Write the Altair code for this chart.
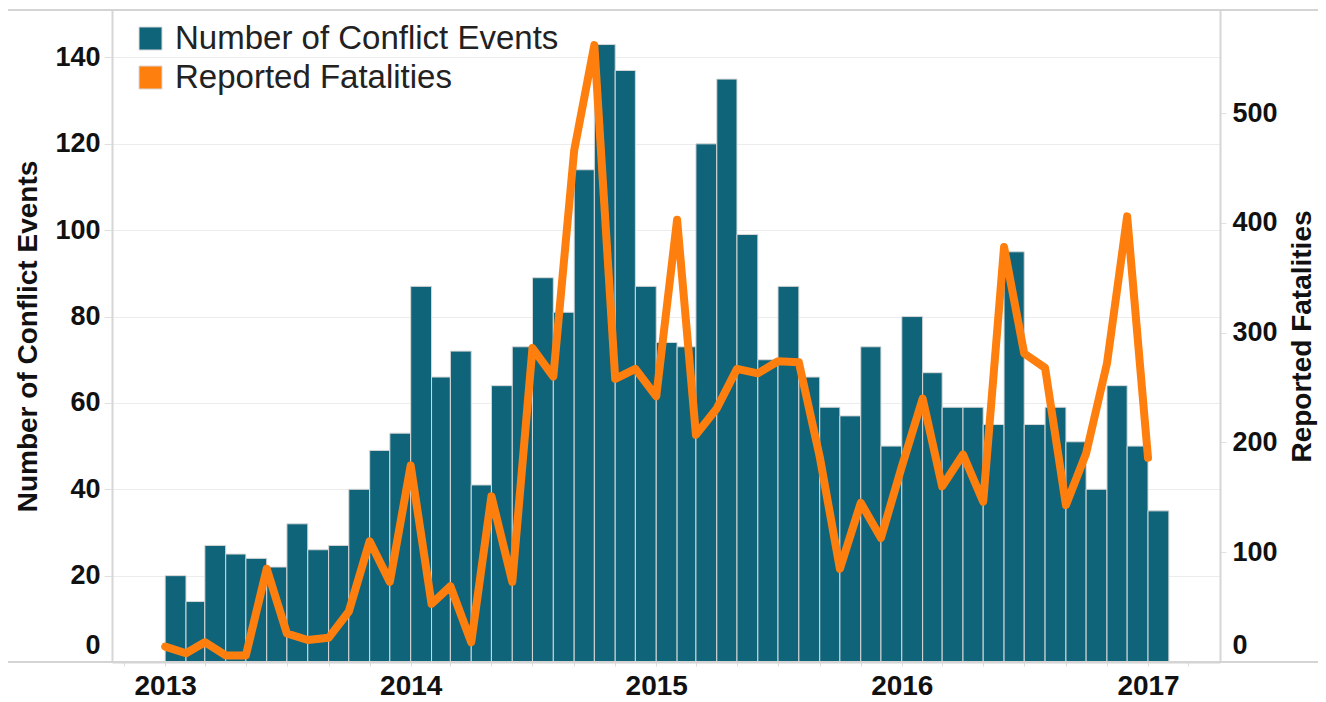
import altair as alt
import pandas as pd

# Monthly categories, Jan 2013 .. Jan 2017
months = pd.date_range("2013-01-01", "2017-01-01", freq="MS")
month_start = [d.strftime("%Y-%m-%d") for d in months]
month_end = [(d + pd.offsets.MonthBegin(1)).strftime("%Y-%m-%d") for d in months]

conflict_events = [
    20, 14, 27, 25, 24, 22, 32, 26, 27, 40, 49, 53,
    87, 66, 72, 41, 64, 73, 89, 81, 114, 143, 137, 87,
    74, 73, 120, 135, 99, 70, 87, 66, 59, 57, 73, 50,
    80, 67, 59, 59, 55, 95, 55, 59, 51, 40, 64, 50,
    35,
]
reported_fatalities = [
    14, 8, 18, 6, 6, 85, 26, 20, 22, 46, 110, 73,
    179, 53, 69, 18, 151, 73, 286, 260, 466, 562, 258, 267,
    242, 403, 207, 231, 267, 263, 274, 273, 187, 85, 145, 113,
    178, 240, 160, 189, 146, 378, 281, 268, 143, 190, 272, 406,
    186,
]
series_names = ["Number of Conflict Events", "Reported Fatalities"]
series_colors = ["#10647a", "#ff7f0e"]
left_ticks = [0, 20, 40, 60, 80, 100, 120, 140]
right_ticks = [0, 100, 200, 300, 400, 500]

df = pd.DataFrame({
    "start": month_start,
    "end": month_end,
    "events": conflict_events,
    "fatalities": reported_fatalities,
    "series": series_names[0],
})

# monthly tick marks on the time axis (labels only for January)
tick_dates = [alt.DateTime(year=d.year, month=d.month, date=1, utc=True)
              for d in pd.date_range("2012-11-01", "2017-04-01", freq="MS")]

FONT = "Liberation Sans"
TXT = "#111111"
W, H = 1108, 652

zero_label_shift = {"condition": {"test": "datum.value == 0", "value": -17}, "value": 0}

xscale = alt.Scale(type="utc", domain=[
    alt.DateTime(year=2012, month=10, date=14, utc=True),
    alt.DateTime(year=2017, month=4, date=18, utc=True),
])

xaxis = alt.Axis(
    title=None, values=tick_dates,
    labelExpr="utcmonth(datum.value) == 0 ? utcFormat(datum.value, '%Y') : ''",
    labelFontSize=28, labelFontWeight="bold", labelColor=TXT, labelFont=FONT,
    labelPadding=6, tickSize=4, tickColor="#dddddd", domainColor="#d4d4d4",
    domainWidth=2, grid=False, labelOverlap=False, labelFlush=False,
)

bars = alt.Chart(df).mark_bar(stroke="#d8d8d8", strokeWidth=1).encode(
    x=alt.X("start:T", scale=xscale, axis=xaxis),
    x2="end:T",
    y=alt.Y("events:Q", scale=alt.Scale(domain=[0, 151], nice=False),
            axis=alt.Axis(
                title="Number of Conflict Events", values=left_ticks,
                grid=True, gridColor="#ececec", gridWidth=1,
                domainColor="#d6d6d6", domainWidth=2,
                tickColor="#e0e0e0", tickSize=8, labelPadding=4,
                labelFontSize=27, labelFontWeight="bold", labelColor=TXT, labelFont=FONT,
                labelFlush=False, labelOffset=zero_label_shift,
                titleFontSize=28, titleFontWeight="bold", titleColor=TXT, titleFont=FONT,
                titlePadding=12,
            )),
    y2=alt.datum(0),
    color=alt.Color("series:N",
                    scale=alt.Scale(domain=series_names, range=series_colors),
                    legend=alt.Legend(
                        title=None, orient="none", legendX=22, legendY=12,
                        symbolType="square", symbolSize=529, symbolStrokeWidth=1,
                        labelFontSize=33, labelFont=FONT, labelColor="#222222",
                        labelOffset=8, rowPadding=5, padding=0, labelLimit=700,
                    )),
)

line = alt.Chart(df).mark_line(
    color=series_colors[1], strokeWidth=8, strokeCap="round", strokeJoin="round"
).encode(
    x=alt.X("start:T", scale=xscale),
    y=alt.Y("fatalities:Q", scale=alt.Scale(domain=[0, 594], nice=False),
            axis=alt.Axis(
                orient="right", title="Reported Fatalities", values=right_ticks,
                grid=False, domainColor="#d6d6d6", domainWidth=2,
                tickColor="#e0e0e0", tickSize=6, labelPadding=6,
                labelFontSize=27, labelFontWeight="bold", labelColor=TXT, labelFont=FONT,
                labelFlush=False, labelOffset=zero_label_shift,
                titleFontSize=28, titleFontWeight="bold", titleColor=TXT, titleFont=FONT,
                titleAngle=270, titleBaseline="top", titlePadding=11,
            )),
)

frame_df = pd.DataFrame({"k": [0]})
top_rule = alt.Chart(frame_df).mark_rule(color="#d4d4d4", strokeWidth=2).encode(
    x=alt.value(-104), x2=alt.value(W + 98), y=alt.value(0)
)
bottom_rule = alt.Chart(frame_df).mark_rule(color="#d4d4d4", strokeWidth=2).encode(
    x=alt.value(-104), x2=alt.value(W + 98), y=alt.value(H)
)

chart = alt.layer(bars, line, top_rule, bottom_rule).resolve_scale(
    y="independent"
).properties(
    width=W, height=H,
    autosize=alt.AutoSizeParams(type="none"),
    padding={"left": 104, "top": 2, "right": 98, "bottom": 40},
).configure(font=FONT).configure_view(stroke=None)

chart.save("out.html", embed_options={"renderer": "svg", "actions": False})
